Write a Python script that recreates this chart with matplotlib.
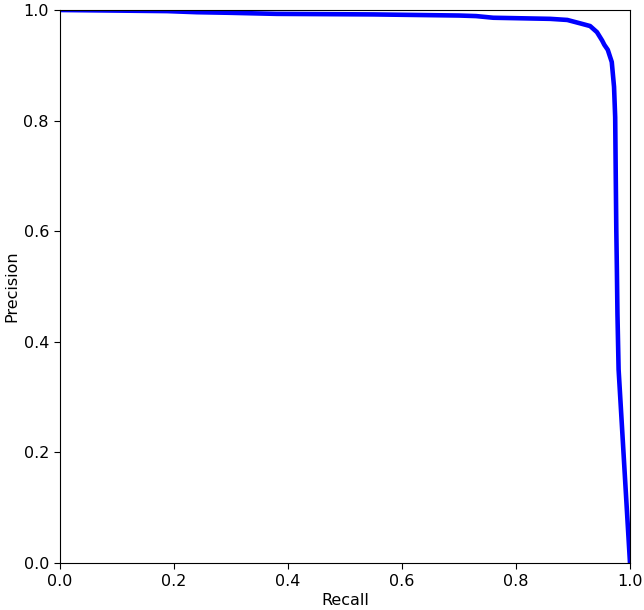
import matplotlib
matplotlib.use('Agg')
import matplotlib.pyplot as plt

# precision-recall curve points
recall = [0.0, 0.188, 0.24, 0.295, 0.38, 0.55, 0.70, 0.73, 0.76, 0.86,
          0.89, 0.912, 0.93, 0.942, 0.951, 0.955, 0.961, 0.968, 0.972,
          0.974, 0.975, 0.976, 0.977, 0.978, 0.979, 0.98, 1.0]
precision = [1.0, 0.998, 0.996, 0.995, 0.993, 0.992, 0.990, 0.989, 0.986, 0.984,
             0.982, 0.976, 0.971, 0.960, 0.945, 0.937, 0.928, 0.906, 0.861,
             0.806, 0.70, 0.60, 0.53, 0.45, 0.40, 0.35, 0.0]

dpi = 100
plt.rcParams['font.size'] = 11.5
fig = plt.figure(figsize=(644 / dpi, 610 / dpi), dpi=dpi)
ax = fig.add_axes([60 / 644, 47 / 610, 570 / 644, 553 / 610])

ax.plot(recall, precision, color='blue', linewidth=3.3)
ax.set_xlim(0, 1)
ax.set_ylim(0, 1)
ax.tick_params(length=4.5)
ax.set_xlabel('Recall', labelpad=3)
ax.set_ylabel('Precision', labelpad=3)

fig.savefig('out.png', dpi=dpi)
